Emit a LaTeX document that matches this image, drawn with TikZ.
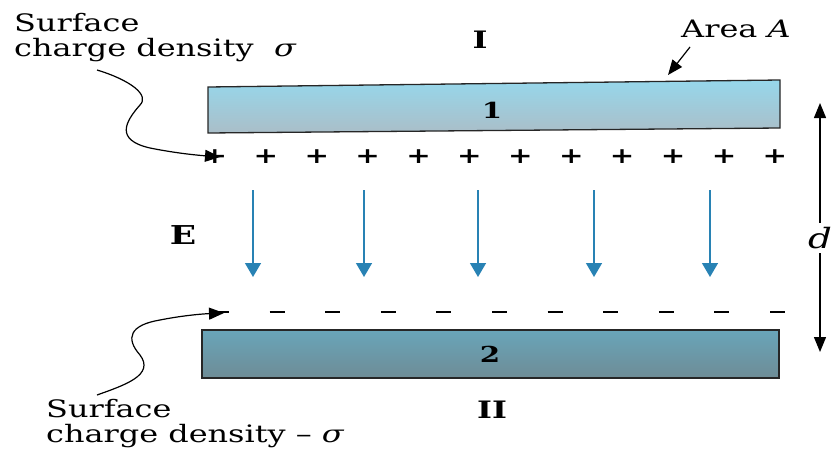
\documentclass[tikz,border=0pt]{standalone}
\usepackage{fontspec}
\setmainfont{DejaVu Serif}[FakeStretch=1.33]
\usetikzlibrary{arrows.meta}
\definecolor{efield}{RGB}{40,130,180}
\definecolor{plateAtop}{RGB}{150,215,235}
\definecolor{plateAbot}{RGB}{170,190,200}
\definecolor{plateBtop}{RGB}{105,165,185}
\definecolor{plateBbot}{RGB}{110,140,150}
\tikzset{
  lbl/.style={font=\fontsize{24}{25}\selectfont, inner sep=0pt, align=left},
  chg/.style={font=\fontsize{22}{22}\selectfont\bfseries, inner sep=0pt},
  fieldarrow/.style={efield, line width=1.5pt, -{Triangle[length=14pt,width=16pt]}},
  blackarrow/.style={line width=1.2pt, -{Triangle[length=15pt,width=12pt]}},
  plate/.style={draw=black!85, line width=1.3pt}
}
\begin{document}
\begin{tikzpicture}[x=1pt,y=-1pt]
\useasboundingbox (0,0) rectangle (832,452);
% plates
\shade[top color=plateAtop, bottom color=plateAbot] (208,87) -- (780,80) -- (780,128) -- (208,133) -- cycle;
\draw[plate] (208,87) -- (780,80) -- (780,128) -- (208,133) -- cycle;
\shade[top color=plateBtop, bottom color=plateBbot] (202,330) rectangle (779,378);
\draw[plate] (202,330) rectangle (779,378);
\node[chg] (p1) at (492,110) {1};
\node[chg] (p2) at (490,354) {2};
% labels
\node[lbl] (I) at (480,40) {\bfseries I};
\node[lbl] (II) at (492,410) {\bfseries II};
\node[lbl, font=\fontsize{26}{27}\selectfont\bfseries] (E) at (183,235) {E};
\node[lbl, anchor=west] (area) at (681,29) {Area \textit{A}};
\node[lbl, anchor=north west] (s1) at (14,13) {Surface\\charge density \ \textit{σ}};
\node[lbl, anchor=north west] (s2) at (46,399) {Surface\\charge density -- \textit{σ}};
% charges
\foreach \i in {0,...,11} {
  \node[chg] (plus\i) at ({215+\i*50.9},157) {+};
}
\foreach \i in {0,...,10} {
  \coordinate (ma\i) at ({214+\i*55.6},312);
  \coordinate (mb\i) at ({229+\i*55.6},312);
  \draw[line width=1.7pt] (ma\i) -- (mb\i);
}
% field arrows
\foreach \x [count=\k] in {253,364,478,594,710} {
  \coordinate (et\k) at (\x,190);
  \coordinate (eb\k) at (\x,277);
  \draw[fieldarrow] (et\k) -- (eb\k);
}
% d dimension
\coordinate (dtop) at (820,103);
\coordinate (dbot) at (820,352);
\node[lbl, font=\fontsize{28}{28}\selectfont\itshape] (d) at (820,238) {d};
\draw[blackarrow, line width=1.3pt] (d.north) ++(0,-4) -- (dtop);
\draw[blackarrow, line width=1.3pt] (d.south) ++(0,4) -- (dbot);
% area arrow
\coordinate (aa) at (690,47);
\coordinate (ab) at (668,75);
\draw[blackarrow] (aa) -- (ab);
% curved arrows
\coordinate (c1s) at (97,70);
\coordinate (c1e) at (220,157);
\draw[blackarrow] (c1s) .. controls (130,80) and (150,95) .. (140,105)
  .. controls (125,122) and (115,140) .. (150,148)
  .. controls (175,153) and (195,155) .. (c1e);
\coordinate (c2s) at (97,395);
\coordinate (c2e) at (224,313);
\draw[blackarrow] (c2s) .. controls (125,385) and (155,375) .. (140,355)
  .. controls (125,338) and (130,325) .. (160,320)
  .. controls (180,316) and (200,314) .. (c2e);
\end{tikzpicture}
\end{document}
